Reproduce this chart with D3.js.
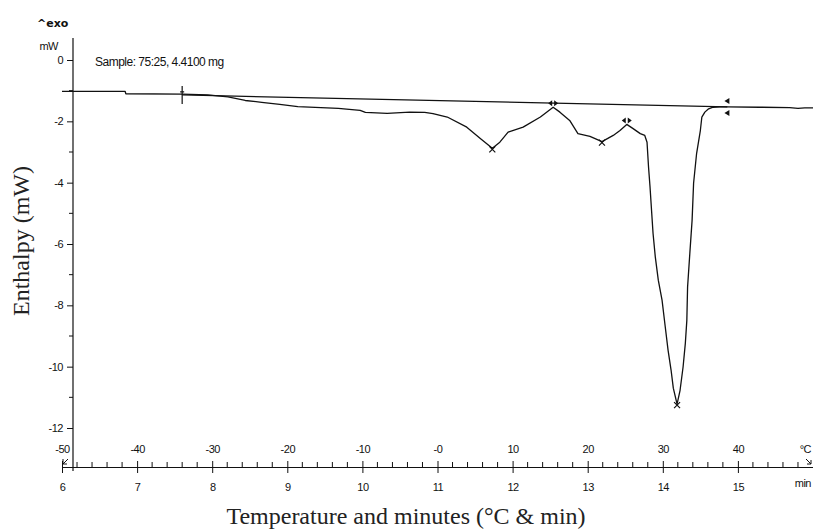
<!DOCTYPE html>
<html>
<head>
<meta charset="utf-8">
<script src="https://cdn.jsdelivr.net/npm/d3@7"></script>
<style>
  body { margin: 0; background: #fff; }
  .tk { font-family: "Liberation Sans", Arial, sans-serif; font-size: 11px; letter-spacing: -0.5px; fill: #111; }
  .ttl { font-family: "Liberation Serif", "Times New Roman", serif; font-size: 24px; fill: #222; }
</style>
</head>
<body>
<div id="chart"></div>
<script>
// DSC curve, minutes vs mW
var sigMin = [6.00, 6.84, 6.85, 7.60, 7.94, 8.21, 8.44, 8.66, 8.90, 9.14, 9.68, 9.97, 10.04, 10.33,
  10.63, 10.83, 10.94, 11.13, 11.39, 11.57, 11.73, 11.83, 11.94, 12.14, 12.37, 12.54, 12.63, 12.76,
  12.87, 13.03, 13.19, 13.34, 13.43, 13.52, 13.60, 13.70, 13.76, 13.79, 13.81, 13.83, 13.85, 13.87,
  13.90, 13.94, 13.99, 14.03, 14.07, 14.11, 14.14, 14.19, 14.23, 14.27, 14.30, 14.32, 14.33, 14.36,
  14.39, 14.41, 14.45, 14.50, 14.52, 14.56, 14.61, 14.67, 14.76, 14.86, 15.29, 15.69, 15.80, 15.89, 16.00];
var sigMW = [-1.02, -1.02, -1.10, -1.11, -1.14, -1.20, -1.32, -1.38, -1.45, -1.52, -1.58, -1.64, -1.71, -1.74,
  -1.70, -1.71, -1.75, -1.86, -2.19, -2.56, -2.88, -2.68, -2.35, -2.19, -1.86, -1.54, -1.70, -1.97,
  -2.40, -2.49, -2.66, -2.46, -2.30, -2.10, -2.23, -2.40, -2.46, -2.68, -3.49, -4.14, -4.90, -5.65,
  -6.42, -7.18, -7.83, -8.65, -9.46, -10.11, -10.70, -11.22, -10.77, -10.01, -9.24, -8.49, -7.40, -6.30,
  -5.23, -4.02, -3.05, -2.30, -1.86, -1.70, -1.59, -1.54, -1.53, -1.53, -1.54, -1.55, -1.58, -1.56, -1.56];

// integration baseline
var baseMin = [7.60, 14.86];
var baseMW = [-1.14, -1.53];

// peak (x) markers and limit markers
var peakMin = [11.73, 13.19, 14.19];
var peakMW = [-2.88, -2.66, -11.22];
var limMin = [12.54, 13.52];
var limMW = [-1.54, -2.10];

var yMajor = [0, -2, -4, -6, -8, -10, -12];
var yMinor = [-1, -3, -5, -7, -9, -11];
var minTicks = [6, 7, 8, 9, 10, 11, 12, 13, 14, 15];
var minLabels = ["6", "7", "8", "9", "10", "11", "12", "13", "14", "15"];
var tempLabels = ["-50", "-40", "-30", "-20", "-10", "-0", "10", "20", "30", "40"];

var width = 813, height = 530;

var svg = d3.select('#chart')
  .append('svg')
  .attr('width', width)
  .attr('height', height);

var x = d3.scaleLinear().domain([6, 16]).range([62, 813]);
var y = d3.scaleLinear().domain([0, -12]).range([60, 428]);
var axisX = 73, axisY = 467;

// y axis
svg.append('line')
  .attr('x1', axisX).attr('x2', axisX)
  .attr('y1', 38).attr('y2', 471)
  .attr('stroke', '#111').attr('stroke-width', 1.2);

var gy = svg.append('g')
  .attr('transform', 'translate(' + axisX + ',0)')
  .call(d3.axisLeft(y).tickValues(yMajor).tickSize(6).tickPadding(4)
    .tickFormat(function(d) { return d === 0 ? '0' : '-' + Math.abs(d); }));
gy.select('.domain').remove();
gy.selectAll('.tick line').attr('stroke', '#111');
gy.selectAll('.tick text').attr('class', 'tk').attr('fill', null);

svg.append('g').selectAll('line')
  .data(yMinor)
  .enter()
  .append('line')
  .attr('x1', axisX - 4).attr('x2', axisX)
  .attr('y1', function(d) { return y(d); })
  .attr('y2', function(d) { return y(d); })
  .attr('stroke', '#111');

svg.append('text').attr('class', 'tk')
  .attr('x', 58).attr('y', 50).attr('text-anchor', 'end').text('mW');

svg.append('text')
  .attr('x', 37).attr('y', 27)
  .style('font-family', '"DejaVu Sans", sans-serif')
  .style('font-weight', 'bold').style('font-size', '11px')
  .attr('fill', '#111')
  .text('^exo');

svg.append('text').attr('class', 'tk')
  .attr('x', 95).attr('y', 66)
  .style('font-size', '12px')
  .text('Sample: 75:25, 4.4100 mg');

// x axis (minutes below, temperature above)
var gx = svg.append('g')
  .attr('transform', 'translate(0,' + axisY + ')')
  .call(d3.axisBottom(x).tickValues(minTicks).tickSizeInner(6).tickSizeOuter(0).tickPadding(10)
    .tickFormat(function(d, i) { return minLabels[i]; }));
gx.select('.domain').attr('stroke', '#111').attr('stroke-width', 1.2);
gx.selectAll('.tick line').attr('y1', -6).attr('stroke', '#111');
gx.selectAll('.tick text').attr('class', 'tk').attr('fill', null);

var xT = d3.scaleLinear().domain([-50, 50]).range(x.range());
var gt = svg.append('g')
  .attr('transform', 'translate(0,' + axisY + ')')
  .call(d3.axisTop(xT).tickValues(d3.range(-50, 50, 10)).tickSize(0).tickPadding(14)
    .tickFormat(function(d, i) { return tempLabels[i]; }));
gt.select('.domain').remove();
gt.selectAll('.tick text').attr('class', 'tk').attr('fill', null);

var minor = d3.range(6, 16.001, 0.2).filter(function(d) { return Math.abs(d - Math.round(d)) > 0.01; });
svg.append('g').selectAll('line')
  .data(minor)
  .enter()
  .append('line')
  .attr('x1', function(d) { return x(d); })
  .attr('x2', function(d) { return x(d); })
  .attr('y1', axisY - 5).attr('y2', axisY + 1)
  .attr('stroke', '#111');

svg.append('text').attr('class', 'tk')
  .attr('x', 811).attr('y', axisY + 20).attr('text-anchor', 'end').text('min');
svg.append('text').attr('class', 'tk')
  .attr('x', 811).attr('y', axisY - 14).attr('text-anchor', 'end').text('°C');

// small end arrows on the x axis
svg.append('path')
  .attr('d', 'M' + (x(6) + 1) + ',' + (axisY - 3) + 'l5,-5 M' + (x(6) + 1) + ',' + (axisY - 8) + 'l0,5l4,0')
  .attr('fill', 'none').attr('stroke', '#111');
svg.append('path')
  .attr('d', 'M' + (x(16) - 7) + ',' + (axisY - 8) + 'l5,5 M' + (x(16) - 2) + ',' + (axisY - 7) + 'l0,4l-4,0')
  .attr('fill', 'none').attr('stroke', '#111');

// curves
var line = d3.line()
  .x(function(d) { return x(d[0]); })
  .y(function(d) { return y(d[1]); });

svg.append('path')
  .datum(d3.zip(baseMin, baseMW))
  .attr('d', line)
  .attr('fill', 'none').attr('stroke', '#111').attr('stroke-width', 1.3);

svg.append('path')
  .datum(d3.zip(sigMin, sigMW))
  .attr('d', line)
  .attr('fill', 'none').attr('stroke', '#111').attr('stroke-width', 1.3)
  .attr('stroke-linejoin', 'round');

// peak markers (x)
svg.append('g').selectAll('path')
  .data(d3.zip(peakMin, peakMW))
  .enter()
  .append('path')
  .attr('d', function(d) {
    var px = x(d[0]), py = y(d[1]) + 1;
    return 'M' + (px - 3) + ',' + (py - 3) + 'L' + (px + 3) + ',' + (py + 3) +
      'M' + (px - 3) + ',' + (py + 3) + 'L' + (px + 3) + ',' + (py - 3);
  })
  .attr('stroke', '#111').attr('stroke-width', 1.2);

// limit markers
svg.append('g').selectAll('path')
  .data(d3.zip(limMin, limMW))
  .enter()
  .append('path')
  .attr('d', function(d) {
    var px = x(d[0]), py = y(d[1]) - 4;
    return 'M' + (px - 1) + ',' + (py - 3) + 'l-4,3l4,3z M' + (px + 1) + ',' + (py - 3) + 'l4,3l-4,3z';
  })
  .attr('fill', '#111');

// start marker of the baseline
svg.append('path')
  .attr('d', 'M' + x(baseMin[0]) + ',' + (y(baseMW[0]) - 9) + 'l0,18 M' + (x(baseMin[0]) - 2) + ',' + (y(baseMW[0]) - 3) + 'l4,0')
  .attr('stroke', '#111').attr('stroke-width', 1.2);

// end marker of the baseline
svg.append('path')
  .attr('d', function() {
    var px = x(baseMin[1]), py = y(baseMW[1]);
    return 'M' + (px + 2) + ',' + (py - 9) + 'l-5,3l5,3z M' + (px + 2) + ',' + (py + 3) + 'l-5,3l5,3z';
  })
  .attr('fill', '#111');

// axis titles
svg.append('text').attr('class', 'ttl')
  .attr('x', 406).attr('y', 524).attr('text-anchor', 'middle')
  .text('Temperature and minutes (°C & min)');

svg.append('text').attr('class', 'ttl')
  .attr('transform', 'translate(29,241) rotate(-90)')
  .attr('text-anchor', 'middle')
  .text('Enthalpy (mW)');
</script>
</body>
</html>
